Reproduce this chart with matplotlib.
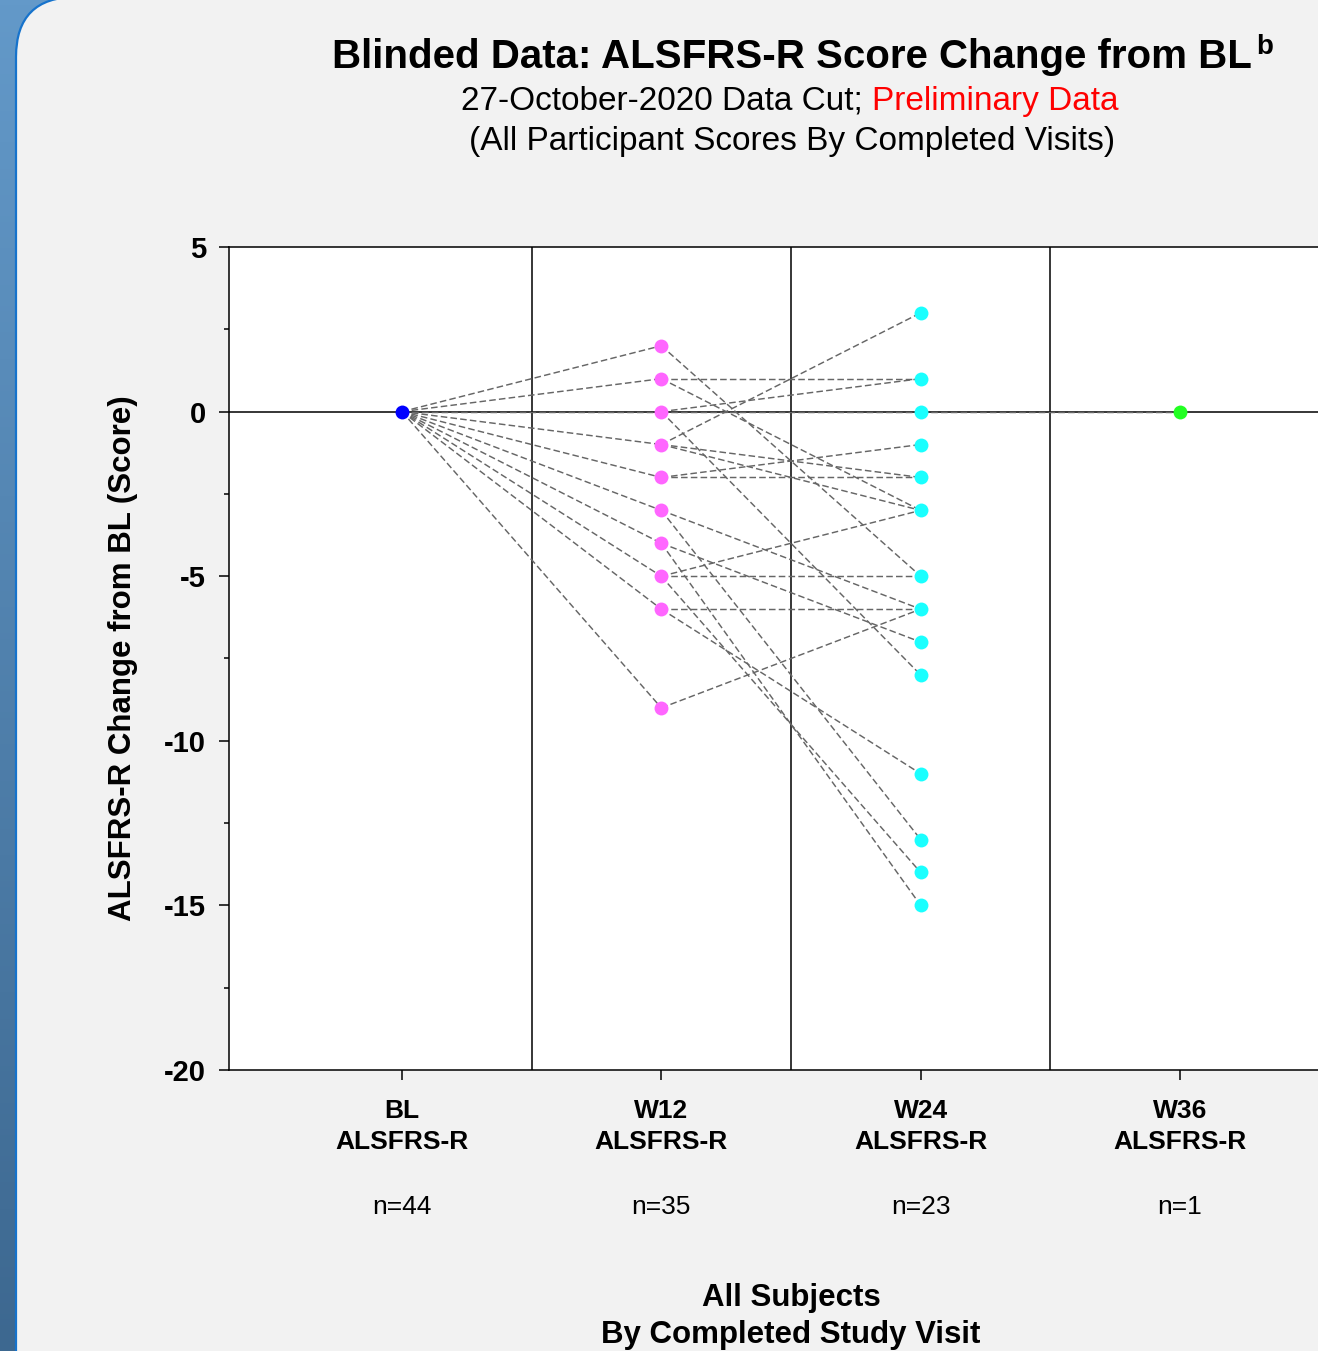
import matplotlib.pyplot as plt
import numpy as np
from matplotlib.patches import FancyBboxPatch
from matplotlib.colors import LinearSegmentedColormap
from matplotlib.ticker import MultipleLocator
from matplotlib import transforms

plt.rcParams['font.family'] = ['Liberation Sans', 'DejaVu Sans']
plt.rcParams['axes.unicode_minus'] = False

# visits and counts
visits = ['BL', 'W12', 'W24', 'W36']
n_counts = [44, 35, 23, 1]
visit_colors = ['#0000ff', '#ff66ff', '#1affff', '#22ff22']

# change from BL
bl_values = [0]
w12_values = [2, 1, 0, -1, -2, -3, -4, -5, -6, -9]   # every one linked from BL
w24_start = [2, 1, 1, 0, 0, 0, -1, -1, -1, -2, -2, -3, -3, -4, -4, -5, -5, -5, -6, -6, -9]
w24_end = [-5, 1, -3, 1, 0, -8, 3, -2, -3, -2, -1, -6, -13, -7, -15, -5, -3, -14, -6, -11, -6]
w36_start = [0]
w36_end = [0]

W, H = 1318, 1351
fig = plt.figure(figsize=(W / 100, H / 100), dpi=100)

# slide background: blue side strip + grey rounded panel
bg = fig.add_axes([0, 0, 1, 1], zorder=-10)
grad = np.linspace(0, 1, 256).reshape(-1, 1)
side = LinearSegmentedColormap.from_list('side', ['#6399c9', '#3d6890'])
bg.imshow(grad, cmap=side, extent=[0, W, H, 0], aspect='auto')
panel = FancyBboxPatch((16, -3), 1600, 1600, boxstyle='round,pad=0,rounding_size=60',
                       facecolor='#f2f2f2', edgecolor='#1673cc', linewidth=1.6)
bg.add_patch(panel)
bg.set_xlim(0, W)
bg.set_ylim(H, 0)
bg.axis('off')

ax = fig.add_axes([229 / W, (H - 1070) / H, (1353 - 229) / W, (1070 - 247) / H])
ax.set_facecolor('white')
ax.set_xlim(-0.667, 3.667)
ax.set_ylim(-20, 5)
for s in ax.spines.values():
    s.set_linewidth(1.1)

for b in [0.5, 1.5, 2.5]:
    ax.axvline(b, color='black', lw=1.1, zorder=1)
ax.axhline(0, color='black', lw=1.1, zorder=1)

dash = dict(color='#666666', lw=1.05, ls=(0, (4.5, 2.2)), zorder=3)
for v in w12_values:
    ax.plot([0, 1], [bl_values[0], v], **dash)
for a, b in zip(w24_start, w24_end):
    ax.plot([1, 2], [a, b], **dash)
for a, b in zip(w36_start, w36_end):
    ax.plot([2, 3], [a, b], **dash)

w24_values = sorted(set(w24_end))
for i, vals in enumerate([bl_values, w12_values, w24_values, w36_end]):
    ax.plot([i] * len(vals), vals, 'o', color=visit_colors[i], ms=10, mec='none', zorder=5)

ax.set_yticks([-20, -15, -10, -5, 0, 5])
ax.yaxis.set_minor_locator(MultipleLocator(2.5))
ax.tick_params(axis='y', which='major', length=7.5, width=1.1, labelsize=21, pad=9)
ax.tick_params(axis='y', which='minor', length=3.5, width=1.1)
for lbl in ax.get_yticklabels():
    lbl.set_fontweight('bold')

ax.set_xticks(range(len(visits)))
ax.set_xticklabels([f'{v}\nALSFRS-R' for v in visits], fontsize=19, fontweight='bold',
                   linespacing=1.35)
ax.tick_params(axis='x', length=7.5, width=1.1, pad=13.5)

trans = transforms.blended_transform_factory(ax.transData, ax.transAxes)
for i, n in enumerate(n_counts):
    ax.text(i, (1070 - 1207) / 823, f'n={n}', transform=trans, ha='center', va='center',
            fontsize=19)

ax.set_xlabel('All Subjects\nBy Completed Study Visit', fontsize=22.5, fontweight='bold',
              linespacing=1.3)
ax.xaxis.set_label_coords(0.5, (1070 - 1283) / 823)
ax.set_ylabel('ALSFRS-R Change from BL (Score)', fontsize=22.5, fontweight='bold')
ax.yaxis.set_label_coords((138 - 229) / 1124, 0.5)

title = fig.text(792 / W, 1 - 68 / H, 'Blinded Data: ALSFRS-R Score Change from BL',
                 ha='center', va='baseline', fontsize=29, fontweight='bold')
ax.annotate('b', xy=(1, 0.57), xycoords=title, xytext=(3, 0), textcoords='offset points',
            va='baseline', ha='left', fontsize=20, fontweight='bold')
sub1 = fig.text(461 / W, 1 - 110 / H, '27-October-2020 Data Cut; ', ha='left', va='baseline',
                fontsize=24)
ax.annotate('Preliminary Data', xy=(1, 0), xycoords=sub1, va='bottom', ha='left',
            fontsize=24, color='#ff0000')
fig.text(792 / W, 1 - 150 / H, '(All Participant Scores By Completed Visits)', ha='center',
         va='baseline', fontsize=24)

fig.savefig('out.png', dpi=100)
